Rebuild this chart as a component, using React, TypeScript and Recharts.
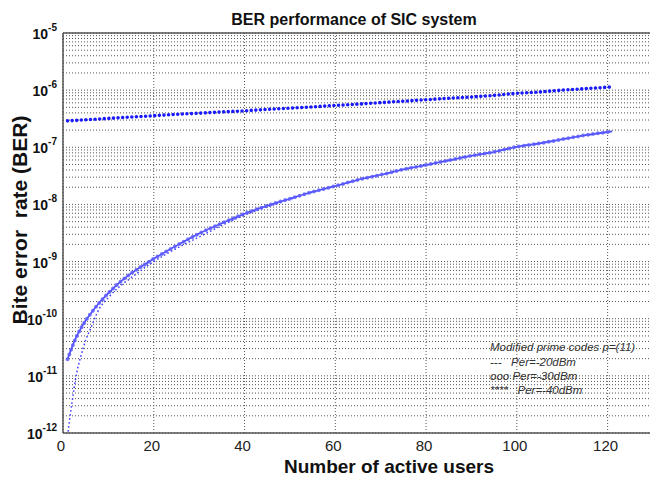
import React from 'react';
import {
  LineChart,
  Line,
  XAxis,
  YAxis,
  CartesianGrid,
  ReferenceLine
} from 'recharts';

const users = [1, 2, 3, 4, 5, 6, 8, 10, 12, 15, 18, 20, 25, 30, 35, 40, 45, 50, 55, 60, 65, 70, 75, 80, 85, 90, 95, 100, 105, 110, 115, 121];

// Upper curve (dense dots)
const upperBer = [2.9e-7, 2.93e-7, 2.96e-7, 3.0e-7, 3.03e-7, 3.07e-7, 3.13e-7, 3.2e-7, 3.27e-7, 3.38e-7, 3.49e-7, 3.57e-7, 3.77e-7, 3.95e-7, 4.15e-7, 4.35e-7, 4.6e-7, 4.85e-7, 5.1e-7, 5.4e-7, 5.7e-7, 6.05e-7, 6.4e-7, 6.8e-7, 7.2e-7, 7.6e-7, 8.1e-7, 8.8e-7, 9.3e-7, 1.0e-6, 1.06e-6, 1.14e-6];

// Curve with circle markers
const circleBer = [1.95e-11, 3.2e-11, 4.9e-11, 6.9e-11, 9.3e-11, 1.2e-10, 1.9e-10, 2.8e-10, 4.0e-10, 6.2e-10, 8.9e-10, 1.12e-9, 1.9e-9, 3.1e-9, 4.7e-9, 6.9e-9, 9.5e-9, 1.26e-8, 1.66e-8, 2.1e-8, 2.7e-8, 3.3e-8, 4.1e-8, 4.9e-8, 5.9e-8, 7.1e-8, 8.3e-8, 1.02e-7, 1.17e-7, 1.38e-7, 1.62e-7, 1.9e-7];

// Lower dotted curve
const dottedBer = [9e-13, 3.5e-12, 1.1e-11, 2.3e-11, 4.2e-11, 6.5e-11, 1.5e-10, 2.35e-10, 3.4e-10, 5.2e-10, 7.8e-10, 1.0e-9, 1.7e-9, 2.7e-9, 4.3e-9, 6.5e-9, 9.1e-9, 1.23e-8, 1.64e-8, 2.08e-8, 2.68e-8, 3.3e-8, 4.1e-8, 4.9e-8, 5.9e-8, 7.1e-8, 8.3e-8, 1.01e-7, 1.17e-7, 1.38e-7, 1.62e-7, 1.9e-7];

const xTicks = [0, 20, 40, 60, 80, 100, 120];
const decades = [1e-12, 1e-11, 1e-10, 1e-9, 1e-8, 1e-7, 1e-6, 1e-5];
const minorSteps = [2, 3, 4, 5, 6, 7, 8, 9];

const legendLines = [
  'Modified prime codes p=(11)',
  '---   Per=-20dBm',
  'ooo Per=-30dBm',
  '****   Per=-40dBm'
];
const legendBaselines = [351, 366, 380, 394];

const FONT = '"Liberation Sans", Arial, sans-serif';

const data = users.map((u, i) => ({
  users: u,
  upper: upperBer[i],
  circles: circleBer[i],
  dotted: dottedBer[i]
}));

// grid lines at every decade and its minor steps
const yTicks: number[] = [];
decades.forEach((d, i) => {
  yTicks.push(d);
  if (i < decades.length - 1) minorSteps.forEach(m => yTicks.push(m * d));
});

const YTick = (props: any) => {
  const { x, y, payload } = props;
  const lg = Math.log10(payload.value);
  const e = Math.round(lg);
  if (Math.abs(lg - e) > 1e-6) return <g />;
  return (
    <text x={x - 6} y={y + 6} textAnchor="end" fontFamily={FONT} fontWeight="bold" fill="#111">
      <tspan fontSize={14}>10</tspan>
      <tspan fontSize={10} dy={-8}>{e}</tspan>
    </text>
  );
};

const XTick = (props: any) => {
  const { x, y, payload } = props;
  return (
    <text x={x - 2} y={y + 18} textAnchor="middle" fontFamily={FONT} fontSize={15} fill="#222">
      {payload.value}
    </text>
  );
};

const App = () => {
  return (
    <div style={{ position: 'absolute', left: 0, top: 0, width: 650, height: 479, overflow: 'hidden', background: '#fff' }}>
      <LineChart width={660} height={479} data={data} margin={{ top: 33, right: 7, bottom: 0, left: 0 }}>
        <CartesianGrid stroke="#555" strokeDasharray="1 2" />
        <XAxis
          dataKey="users"
          type="number"
          domain={[0, 130]}
          ticks={xTicks}
          interval={0}
          height={46}
          tickSize={0}
          tickMargin={0}
          tick={<XTick />}
          axisLine={{ stroke: '#555', strokeWidth: 1.5 }}
        />
        <YAxis
          scale="log"
          type="number"
          domain={[1e-12, 1e-5]}
          allowDataOverflow
          ticks={yTicks}
          interval={0}
          width={63}
          tickSize={0}
          tickMargin={0}
          tick={<YTick />}
          axisLine={{ stroke: '#555', strokeWidth: 1.5 }}
        />
        <ReferenceLine y={1e-5} stroke="#555" strokeWidth={1.5} />
        <Line
          dataKey="dotted"
          type="monotone"
          stroke="#4040ff"
          strokeWidth={1.5}
          strokeDasharray="1.6 2.4"
          dot={false}
          isAnimationActive={false}
        />
        <Line
          dataKey="circles"
          type="monotone"
          stroke="#4a4aff"
          strokeWidth={1.6}
          dot={false}
          isAnimationActive={false}
        />
        <Line
          dataKey="circles"
          type="monotone"
          stroke="#5d5dff"
          strokeWidth={4}
          strokeOpacity={0.8}
          strokeDasharray="0 5"
          strokeLinecap="round"
          dot={false}
          isAnimationActive={false}
        />
        <Line
          dataKey="upper"
          type="monotone"
          stroke="#1a1aff"
          strokeWidth={3.6}
          strokeDasharray="0 4.6"
          strokeLinecap="round"
          dot={false}
          isAnimationActive={false}
        />
      </LineChart>
      <svg width={650} height={479} style={{ position: 'absolute', left: 0, top: 0, pointerEvents: 'none' }}>
        <text x={354} y={25} textAnchor="middle" fontFamily={FONT} fontWeight="bold" fontSize={16} fill="#111">
          BER performance of SIC system
        </text>
        <text x={389} y={473} textAnchor="middle" fontFamily={FONT} fontWeight="bold" fontSize={19} fill="#111">
          Number of active users
        </text>
        <text
          x={27}
          y={220}
          textAnchor="middle"
          fontFamily={FONT}
          fontWeight="bold"
          fontSize={21}
          fill="#111"
          transform="rotate(-90 27 220)"
          style={{ whiteSpace: 'pre' }}
        >
          {'Bite error  rate (BER)'}
        </text>
        {legendLines.map((t, i) => (
          <text
            key={t}
            x={490}
            y={legendBaselines[i]}
            fontFamily={FONT}
            fontStyle="italic"
            fontSize={11.5}
            fill="#333"
            style={{ whiteSpace: 'pre' }}
          >
            {t}
          </text>
        ))}
      </svg>
    </div>
  );
};

export default App;
